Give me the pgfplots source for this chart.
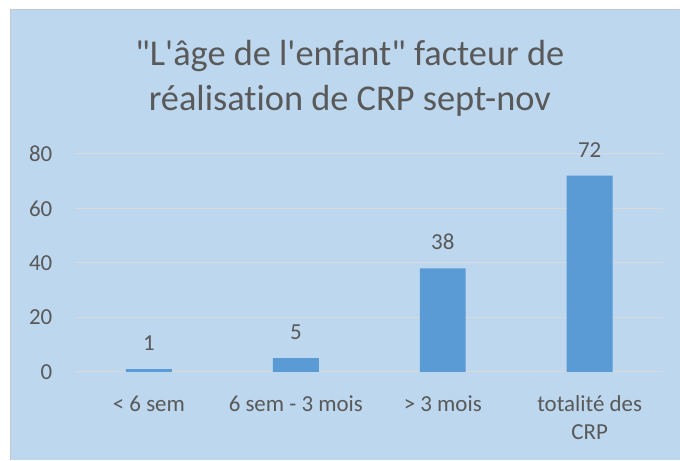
\documentclass[border=0pt]{standalone}
\usepackage{pgfplots}
\pgfplotsset{compat=1.18}
\usepackage{fontspec}
\setmainfont{Carlito}[Ligatures={TeXOff,NoCommon}]
\definecolor{bg}{HTML}{BDD7EE}
\definecolor{barc}{HTML}{5B9BD5}
\definecolor{txt}{HTML}{595959}
\definecolor{gridc}{HTML}{D9D9D9}
\begin{document}
\begin{tikzpicture}[x=1bp,y=1bp]
\fill[white] (0,0) rectangle (680,460);
\fill[bg] (10,0) rectangle (680,451);
\draw[gray!45, line width=0.8bp] (10,0) -- (10,451) -- (680,451);
\node[txt, font=\fontsize{36.5}{45}\selectfont, align=center] at (350,382) {"L'âge de l'enfant" facteur de\\réalisation de CRP sept-nov};
\begin{axis}[
  at={(75.5bp,88bp)}, anchor=south west,
  scale only axis, width=588bp, height=218bp,
  ymin=0, ymax=80, xmin=-0.5, xmax=3.5,
  ytick={0,20,40,60,80},
  xtick={0,1,2,3},
  xticklabels={{\strut< 6 sem},{\strut 6 sem - 3 mois},{\strut > 3 mois},{\strut totalité des\\\strut CRP}},
  ymajorgrids, grid style={gridc, line width=1bp},
  axis line style={draw=none}, major tick style={draw=none},
  ybar, bar width=46bp,
  ticklabel style={txt, font=\fontsize{23}{28}\selectfont},
  /pgf/number format/assume math mode=true,
  xticklabel style={align=center, anchor=north, inner sep=0pt, yshift=-16bp},
  yticklabel style={anchor=east, inner sep=0pt, xshift=-23bp},
  nodes near coords,
  every node near coord/.append style={txt, font=\fontsize{23}{28}\selectfont, anchor=south, inner sep=0pt, yshift=18bp},
]
\addplot[fill=barc, draw=none] coordinates {(0,1) (1,5) (2,38) (3,72)};
\end{axis}
\end{tikzpicture}
\end{document}
